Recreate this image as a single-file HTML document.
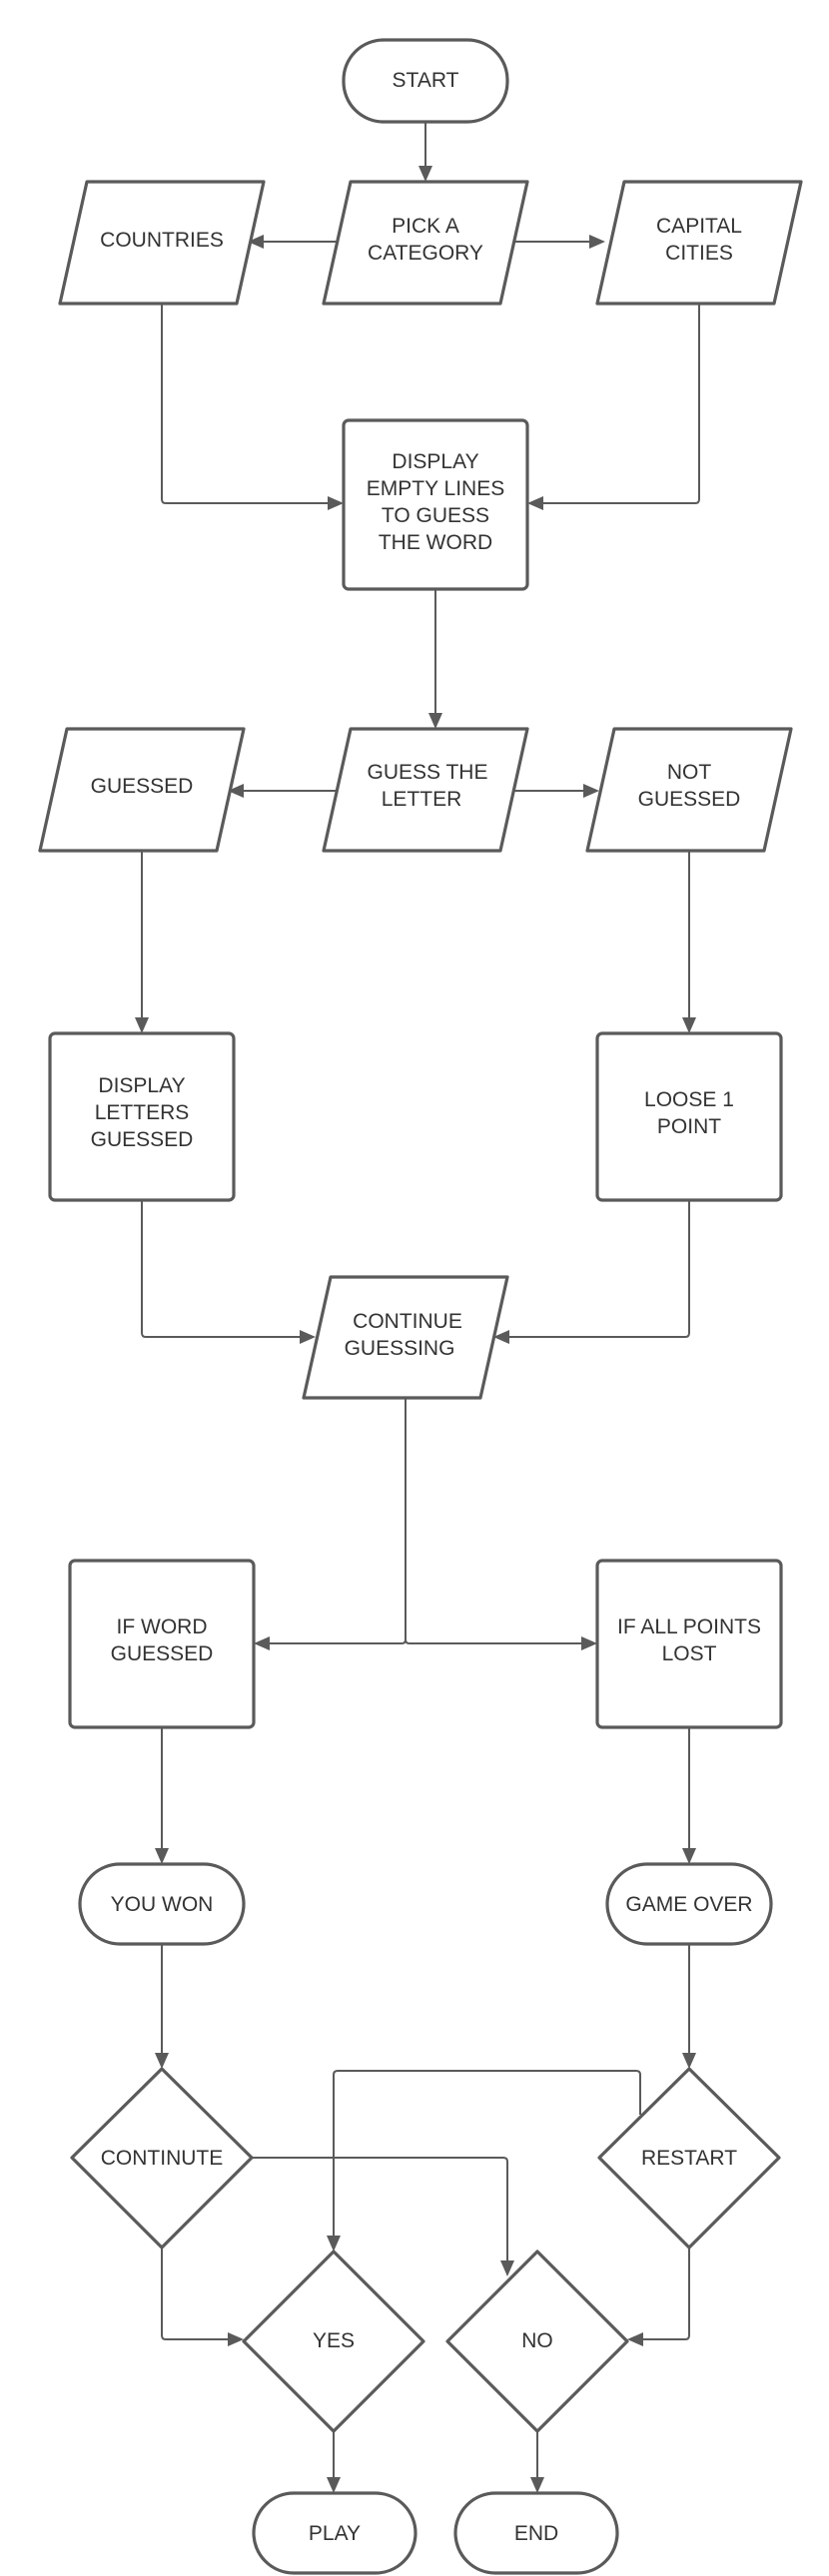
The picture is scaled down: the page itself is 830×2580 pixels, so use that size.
<!DOCTYPE html>
<html><head><meta charset="utf-8"><style>
html,body{margin:0;padding:0;background:#fff}
svg{display:block}
text{font-family:"Liberation Sans",Arial,sans-serif;font-size:21px;fill:#333;text-anchor:middle}
.s{fill:#fff;stroke:#5a5a5a;stroke-width:3.2;stroke-linejoin:round}
.l{fill:none;stroke:#5a5a5a;stroke-width:2}
.a{fill:#5a5a5a}
</style></head><body>
<svg width="830" height="2580" viewBox="0 0 830 2580" xmlns="http://www.w3.org/2000/svg">
<path class="l" d="M426 122V168"/><path class="a" d="M419 166h14l-7 16z"/>
<path class="l" d="M338 242H262"/><path class="a" d="M264 235v14l-16-7z"/>
<path class="l" d="M514 242H592"/><path class="a" d="M590 235v14l16-7z"/>
<path class="l" d="M162 304V500q0 4 4 4H330"/><path class="a" d="M328 497v14l16-7z"/>
<path class="l" d="M700 304V500q0 4-4 4H542"/><path class="a" d="M544 497v14l-16-7z"/>
<path class="l" d="M436 590V716"/><path class="a" d="M429 714h14l-7 16z"/>
<path class="l" d="M338 792H242"/><path class="a" d="M244 785v14l-16-7z"/>
<path class="l" d="M514 792H586"/><path class="a" d="M584 785v14l16-7z"/>
<path class="l" d="M142 852V1021"/><path class="a" d="M135 1019h14l-7 16z"/>
<path class="l" d="M690 852V1021"/><path class="a" d="M683 1019h14l-7 16z"/>
<path class="l" d="M142 1202V1335q0 4 4 4H302"/><path class="a" d="M300 1332v14l16-7z"/>
<path class="l" d="M690 1202V1335q0 4-4 4H508"/><path class="a" d="M510 1332v14l-16-7z"/>
<path class="l" d="M406 1400V1642q0 4-4 4H268"/><path class="a" d="M270 1639v14l-16-7z"/>
<path class="l" d="M406 1642q0 4 4 4H584"/><path class="a" d="M582 1639v14l16-7z"/>
<path class="l" d="M162 1730V1853"/><path class="a" d="M155 1851h14l-7 16z"/>
<path class="l" d="M690 1730V1853"/><path class="a" d="M683 1851h14l-7 16z"/>
<path class="l" d="M162 1947V2058"/><path class="a" d="M155 2056h14l-7 16z"/>
<path class="l" d="M690 1947V2058"/><path class="a" d="M683 2056h14l-7 16z"/>
<path class="l" d="M162 2251V2339q0 4 4 4H230"/><path class="a" d="M228 2336v14l16-7z"/>
<path class="l" d="M252 2161H504q4 0 4 4V2266"/><path class="a" d="M501 2264h14l-7 16z"/>
<path class="l" d="M641 2118V2078q0-4-4-4H338q-4 0-4 4V2241"/><path class="a" d="M327 2239h14l-7 16z"/>
<path class="l" d="M690 2251V2339q0 4-4 4H642"/><path class="a" d="M644 2336v14l-16-7z"/>
<path class="l" d="M334 2435V2483"/><path class="a" d="M327 2481h14l-7 16z"/>
<path class="l" d="M538 2435V2483"/><path class="a" d="M531 2481h14l-7 16z"/>
<rect class="s" x="344" y="40" width="164" height="82" rx="40"/>
<text x="426" y="87">START</text>
<path class="s" d="M87 182H264L237 304H60Z"/>
<text x="162" y="247">COUNTRIES</text>
<path class="s" d="M351 182H528L501 304H324Z"/>
<text x="426" y="233">PICK A</text><text x="426" y="260">CATEGORY</text>
<path class="s" d="M625 182H802L775 304H598Z"/>
<text x="700" y="233">CAPITAL</text><text x="700" y="260">CITIES</text>
<rect class="s" x="344" y="421" width="184" height="169" rx="5"/>
<text x="436" y="469">DISPLAY</text><text x="436" y="496">EMPTY LINES</text><text x="436" y="523">TO GUESS</text><text x="436" y="550">THE WORD</text>
<path class="s" d="M67 730H244L217 852H40Z"/>
<text x="142" y="794">GUESSED</text>
<path class="s" d="M351 730H528L501 852H324Z"/>
<text x="428" y="780">GUESS THE</text><text x="422" y="807">LETTER</text>
<path class="s" d="M615 730H792L765 852H588Z"/>
<text x="690" y="780">NOT</text><text x="690" y="807">GUESSED</text>
<rect class="s" x="50" y="1035" width="184" height="167" rx="5"/>
<text x="142" y="1094">DISPLAY</text><text x="142" y="1121">LETTERS</text><text x="142" y="1148">GUESSED</text>
<rect class="s" x="598" y="1035" width="184" height="167" rx="5"/>
<text x="690" y="1108">LOOSE 1</text><text x="690" y="1135">POINT</text>
<path class="s" d="M331 1279H508L481 1400H304Z"/>
<text x="408" y="1330">CONTINUE</text><text x="400" y="1357">GUESSING</text>
<rect class="s" x="70" y="1563" width="184" height="167" rx="5"/>
<text x="162" y="1636">IF WORD</text><text x="162" y="1663">GUESSED</text>
<rect class="s" x="598" y="1563" width="184" height="167" rx="5"/>
<text x="690" y="1636">IF ALL POINTS</text><text x="690" y="1663">LOST</text>
<rect class="s" x="80" y="1867" width="164" height="80" rx="40"/>
<text x="162" y="1914">YOU WON</text>
<rect class="s" x="608" y="1867" width="164" height="80" rx="40"/>
<text x="690" y="1914">GAME OVER</text>
<path class="s" d="M162 2072L252 2161L162 2251L72 2161Z"/>
<text x="162" y="2168">CONTINUTE</text>
<path class="s" d="M690 2072L780 2161L690 2251L600 2161Z"/>
<text x="690" y="2168">RESTART</text>
<path class="s" d="M334 2255L424 2345L334 2435L244 2345Z"/>
<text x="334" y="2351">YES</text>
<path class="s" d="M538 2255L628 2345L538 2435L448 2345Z"/>
<text x="538" y="2351">NO</text>
<rect class="s" x="254" y="2497" width="162" height="80" rx="40"/>
<text x="335" y="2544">PLAY</text>
<rect class="s" x="456" y="2497" width="162" height="80" rx="40"/>
<text x="537" y="2544">END</text>
</svg>
</body></html>
